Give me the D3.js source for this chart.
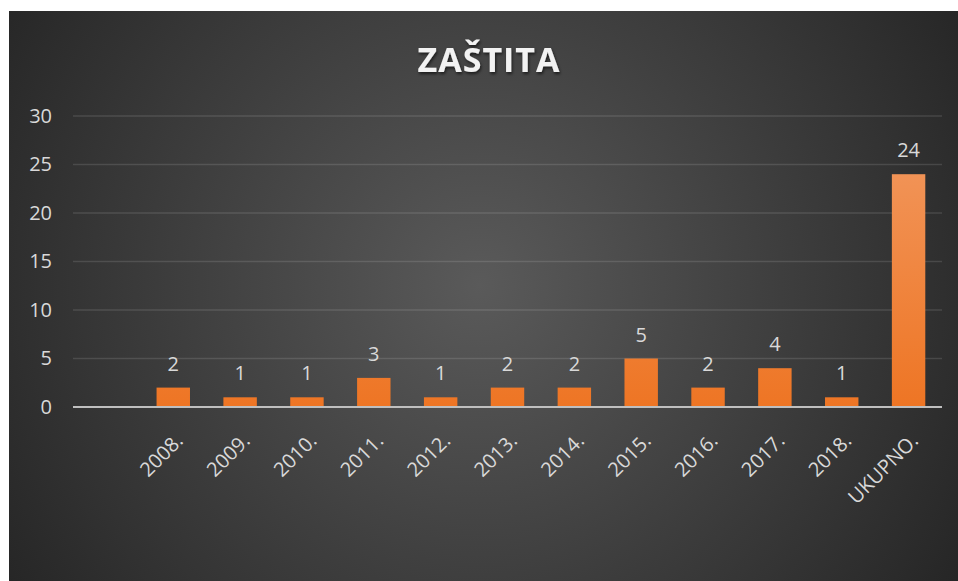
<!DOCTYPE html>
<html>
<head>
<meta charset="utf-8">
<script src="https://cdn.jsdelivr.net/npm/d3@7"></script>
<style>
html,body{margin:0;padding:0;background:#fff;}
svg{display:block;}
</style>
</head>
<body>
<svg id="chart" width="958" height="581"></svg>
<script>
const categories = ["2008.","2009.","2010.","2011.","2012.","2013.","2014.","2015.","2016.","2017.","2018.","UKUPNO."];
const values = [2,1,1,3,1,2,2,5,2,4,1,24];
const yTicks = [0,5,10,15,20,25,30];
const title = "ZAŠTITA";

const W = 958, H = 581;
const svg = d3.select("#chart");
const defs = svg.append("defs");

const bg = defs.append("radialGradient").attr("id","bg")
  .attr("gradientUnits","userSpaceOnUse").attr("cx",480).attr("cy",285).attr("r",560);
bg.append("stop").attr("offset","0%").attr("stop-color","#5a5a5a");
bg.append("stop").attr("offset","100%").attr("stop-color","#262626");

const plotTop = 116, plotBottom = 407, plotLeft = 73, plotRight = 942;
const barG = defs.append("linearGradient").attr("id","barg")
  .attr("gradientUnits","userSpaceOnUse").attr("x1",0).attr("x2",0).attr("y1",plotTop).attr("y2",plotBottom);
barG.append("stop").attr("offset","0%").attr("stop-color","#f29a62");
barG.append("stop").attr("offset","100%").attr("stop-color","#ee7524");

const sh = defs.append("filter").attr("id","tsh").attr("x","-10%").attr("y","-30%").attr("width","120%").attr("height","160%");
sh.append("feDropShadow").attr("dx",1).attr("dy",2).attr("stdDeviation",1.5).attr("flood-color","#000").attr("flood-opacity",0.6);

svg.append("rect").attr("x",9).attr("y",11).attr("width",W-9).attr("height",H-11).attr("fill","url(#bg)");

const FONT = "'Open Sans', sans-serif";
const step = (plotRight - plotLeft) / (categories.length + 1);
const x = d3.scaleBand().domain(categories).range([plotLeft + step, plotRight]).paddingInner(0.5).paddingOuter(0.25);
const y = d3.scaleLinear().domain([0,30]).range([plotBottom, plotTop]);

// gridlines
svg.append("g").selectAll("line").data(yTicks.filter(d=>d>0)).join("line")
  .attr("x1",plotLeft).attr("x2",plotRight)
  .attr("y1",d=>y(d)).attr("y2",d=>y(d))
  .attr("stroke","rgba(255,255,255,0.12)").attr("stroke-width",1.5);

// y tick labels
const yAxis = d3.axisLeft(y).tickValues(yTicks).tickSize(0).tickPadding(0);
const ya = svg.append("g").attr("transform",`translate(52,0)`).call(yAxis);
ya.attr("font-size",null).attr("font-family",null);
ya.select(".domain").remove();
ya.selectAll("text").attr("fill","#d9d9d9").style("font-family",FONT).style("font-size","20px").attr("text-anchor","end");

// bars
svg.append("g").selectAll("rect").data(values).join("rect")
  .attr("x",(d,i)=>x(categories[i]))
  .attr("width",x.bandwidth())
  .attr("y",d=>y(d))
  .attr("height",d=>plotBottom - y(d))
  .attr("fill","url(#barg)");

// baseline
svg.append("line").attr("x1",plotLeft).attr("x2",plotRight).attr("y1",plotBottom).attr("y2",plotBottom)
  .attr("stroke","#bfbfbf").attr("stroke-width",2);

// value labels
svg.append("g").selectAll("text").data(values).join("text")
  .attr("x",(d,i)=>x(categories[i]) + x.bandwidth()/2)
  .attr("y",d=>y(d) - 17)
  .attr("text-anchor","middle")
  .attr("fill","#d9d9d9").style("font-family",FONT).style("font-size","20px")
  .text(d=>d);

// x labels
const xAxis = d3.axisBottom(x).tickSize(0).tickPadding(0);
const xa = svg.append("g").attr("transform",`translate(0,${plotBottom})`).call(xAxis);
xa.attr("font-size",null).attr("font-family",null);
xa.select(".domain").remove();
xa.selectAll("text")
  .attr("fill","#d9d9d9").style("font-family",FONT).style("font-size","20px")
  .attr("text-anchor","end").attr("y",0).attr("dy",0)
  .attr("transform","translate(11,35) rotate(-45)");

// title
svg.append("text").attr("x",489).attr("y",72).attr("text-anchor","middle")
  .attr("fill","#f2f2f2").style("font-family",FONT).attr("font-weight","bold")
  .style("font-size","34px").attr("letter-spacing",1).attr("filter","url(#tsh)")
  .text(title);
</script>
</body>
</html>
